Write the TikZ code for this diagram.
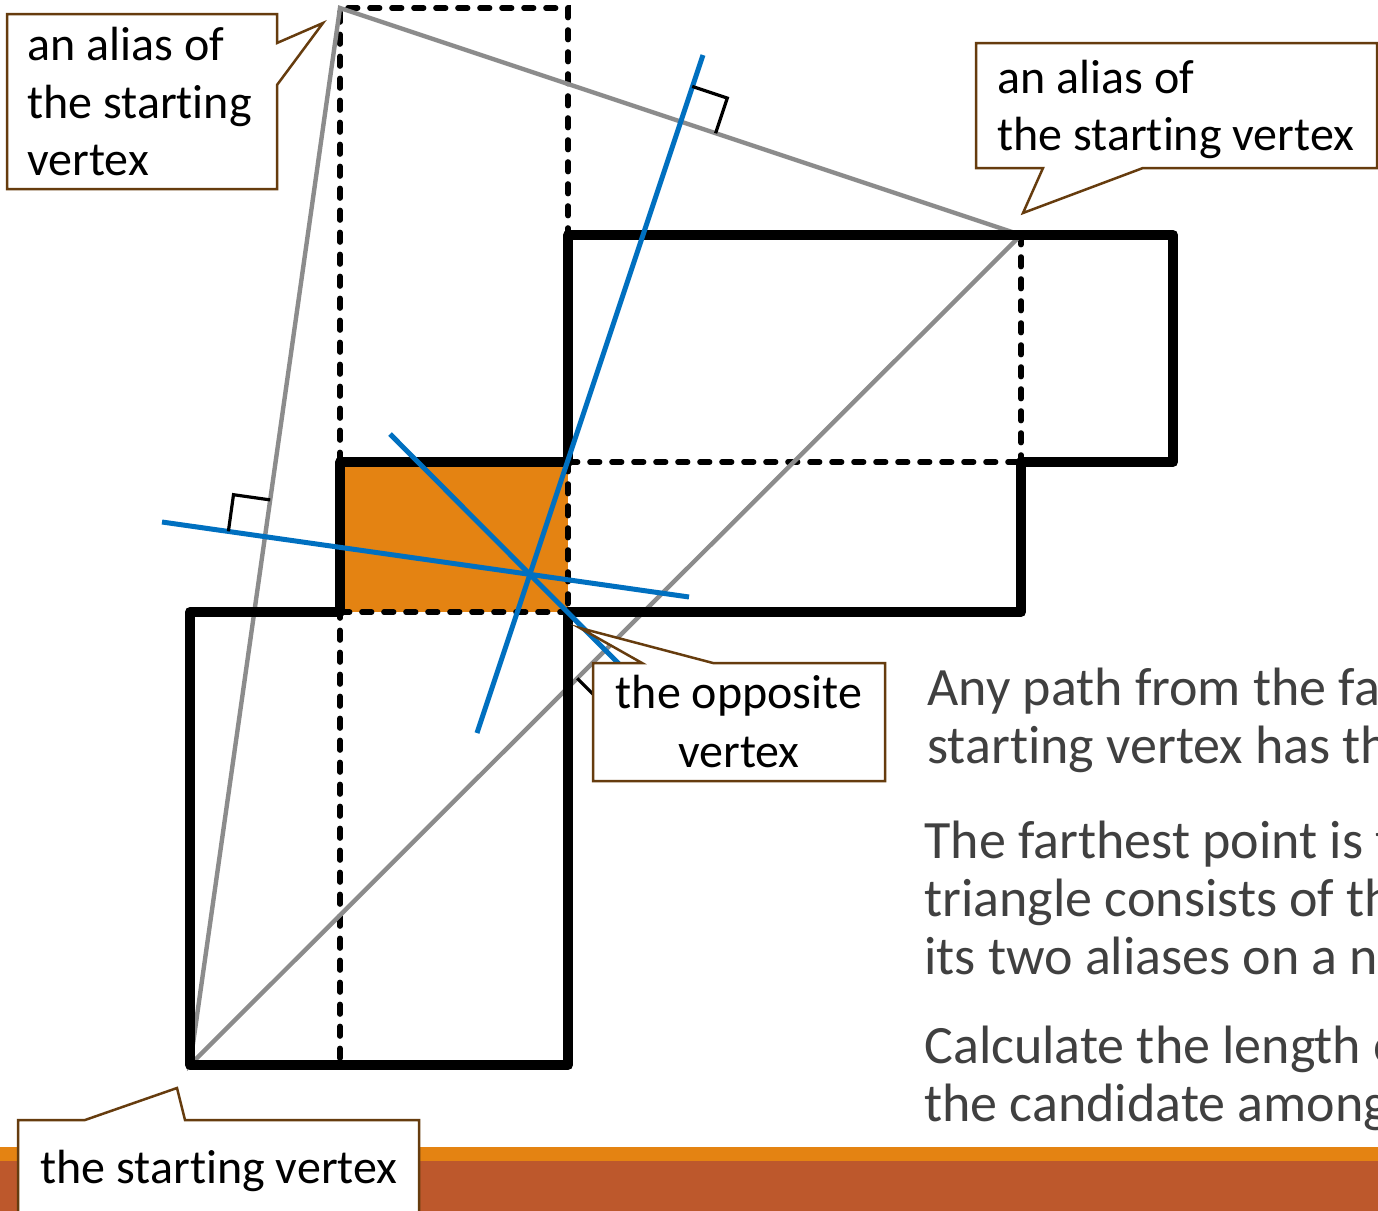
\documentclass[tikz,border=0pt]{standalone}
\usepackage{fontspec}
\setmainfont{Carlito}[Ligatures=NoCommon]
\definecolor{borange}{HTML}{E48312}
\definecolor{rust}{HTML}{BD582C}
\definecolor{cbrown}{HTML}{663C0E}
\definecolor{bluel}{HTML}{0070C0}
\definecolor{grayl}{HTML}{8C8C8C}
\definecolor{textgray}{HTML}{404040}
\tikzset{
  outline/.style={line width=5pt, line join=round, line cap=round},
  foldline/.style={line width=2.8pt, line cap=round, dash pattern=on 4.8pt off 6.2pt},
  grayseg/.style={line width=2.2pt, grayl},
  bisector/.style={line width=2.5pt, bluel},
  rightmark/.style={line width=1.6pt, line join=miter},
  callout/.style={line width=1.25pt, draw=cbrown, fill=white},
  ctext/.style={font=\fontsize{24pt}{29pt}\selectfont, inner sep=0pt, text=black},
  btext/.style={font=\fontsize{27pt}{29pt}\selectfont, inner sep=0pt, text=textgray, anchor=base west},
}
\begin{document}
\begin{tikzpicture}[x=0.5pt, y=-0.5pt]
\useasboundingbox (0,0) rectangle (1378,1211);
\clip (0,0) rectangle (1378,1211);
\fill[white] (0,0) rectangle (1378,1211);
% bottom bars
\fill[borange] (0,1147) rectangle (1378,1161);
\fill[rust] (0,1161) rectangle (1378,1211);
% key coordinates
\coordinate (S) at (190,1065);
\coordinate (A1) at (340,8);
\coordinate (A2) at (1021,235);
% orange face
\fill[borange] (340,462) rectangle (568,612);
% fold lines (dashed)
\draw[foldline] (340,1058) -- (340,612);
\draw[foldline] (340,462) -- (A1) -- (568,8) -- (568,235);
\draw[foldline] (568,462) -- (1021,462);
\draw[foldline] (A2) -- (1021,462);
\draw[foldline] (568,462) -- (568,612);
\draw[foldline] (340,612) -- (568,612);
% gray triangle
\draw[grayseg] (S) -- (A1) -- (A2) -- cycle;
% thick outline of the net
\draw[outline] (S) -- (190,612) -- (340,612) -- (340,462) -- (568,462) -- (568,235)
  -- (1173,235) -- (1173,462) -- (1021,462) -- (1021,612) -- (568,612) -- (568,1065) -- cycle;
% perpendicular bisectors
\draw[bisector] (703,55) -- (477,733);
\draw[bisector] (162,522) -- (689,597);
\draw[bisector] (390,434) -- (650,695);
% right angle marks
\draw[rightmark] (692.2,86.4) -- (727.3,98.1) -- (715.6,133.2);
\draw[rightmark] (228.4,531.3) -- (233.5,494.7) -- (270.2,499.9);
\draw[rightmark] (577.2,678.3) -- (605.5,706.6) -- (633.8,678.3);
% callouts
\draw[callout] (7,14) -- (277,14) -- (277,43) -- (323,23) -- (277,85) -- (277,189) -- (7,189) -- cycle;
\node[ctext, anchor=base west] (tl1) at (27,60) {an alias of};
\node[ctext, anchor=base west] (tl2) at (27,118) {the starting};
\node[ctext, anchor=base west] (tl3) at (27,175) {vertex};
\draw[callout] (976,43) -- (1377,43) -- (1377,168) -- (1143,168) -- (1023,213) -- (1043,168) -- (976,168) -- cycle;
\node[ctext, anchor=base west] (tr1) at (997,93) {an alias of};
\node[ctext, anchor=base west] (tr2) at (997,150) {the starting vertex};
\draw[callout] (593,663) -- (642,663) -- (580,628) -- (713,663) -- (885,663) -- (885,781) -- (593,781) -- cycle;
\node[ctext, anchor=base] (ov1) at (739,708) {the opposite};
\node[ctext, anchor=base] (ov2) at (739,767) {vertex};
\draw[callout] (18,1230) -- (18,1120) -- (85,1120) -- (177,1088) -- (185,1120) -- (419,1120) -- (419,1230);
\node[ctext, anchor=base] (sv) at (219,1183) {the starting vertex};
% body text (cut by the right edge)
\node[btext] (p1a) at (927,705) {Any path from the fa};
\node[btext] (p1b) at (927,763) {starting vertex has th};
\node[btext] (p2a) at (924,858) {The farthest point is t};
\node[btext] (p2b) at (924,916) {triangle consists of th};
\node[btext] (p2c) at (924,974) {its two aliases on a n};
\node[btext] (p3a) at (924,1063) {Calculate the length o};
\node[btext] (p3b) at (924,1121) {the candidate among};
\end{tikzpicture}
\end{document}
